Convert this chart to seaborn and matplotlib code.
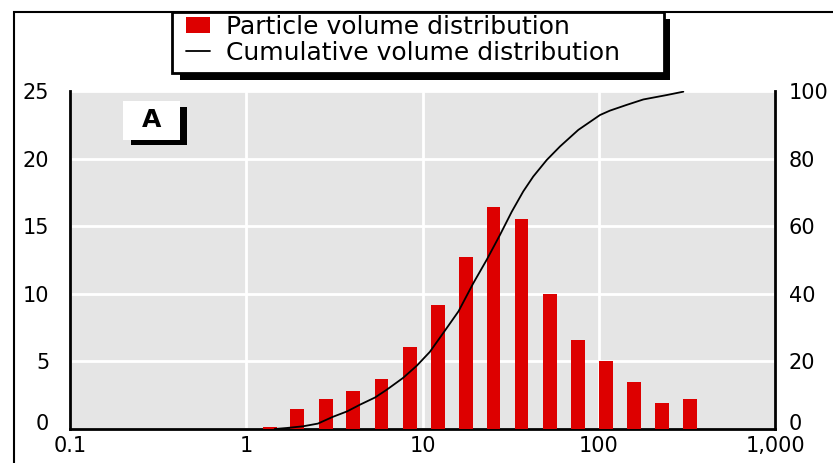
import matplotlib
matplotlib.use("Agg")
import matplotlib.pyplot as plt
from matplotlib.patches import Rectangle, Patch
from matplotlib.lines import Line2D
from matplotlib.transforms import ScaledTranslation
import seaborn as sns

# Particle size classes (µm) and volume fraction (%) per class
sizes = [1.36, 1.95, 2.82, 4.05, 5.85, 8.45, 12.2, 17.6, 25.3, 36.5, 52.7, 76, 110, 158, 228, 330]
volume = [0.15, 1.5, 2.25, 2.8, 3.7, 6.05, 9.2, 12.75, 16.4, 15.5, 10.0, 6.6, 5.0, 3.5, 1.9, 2.2]

# Cumulative volume distribution (%)
cum_size = [1.45, 1.7, 2.1, 2.55, 3.1, 3.73, 4.42, 5.37, 6.26, 7.75, 9.27, 11.0, 13.4, 16.0,
            19.4, 23.1, 27.5, 32.1, 37.3, 42.5, 50.7, 60.3, 76.6, 101.7, 115.8, 144.2, 179.1, 243, 302]
cum_pct = [0, 0.3, 0.8, 1.6, 3.6, 5.2, 7.2, 9.3, 11.6, 15.1, 18.7, 22.8, 29.1, 34.8,
           43.1, 50.0, 57.4, 64.3, 70.3, 74.7, 79.6, 83.6, 88.5, 92.9, 94.2, 95.9, 97.5, 98.8, 99.8]

x_ticks = [0.1, 1, 10, 100, 1000]
x_labels = ["0.1", "1", "10", "100", "1,000"]
left_ticks = [0, 5, 10, 15, 20, 25]
right_ticks = [0, 20, 40, 60, 80, 100]

BAR_RED = "#DD0000"
PANEL = "#E5E5E5"

sns.set_theme(style="darkgrid", rc={
    "axes.facecolor": PANEL,
    "grid.color": "white",
    "grid.linewidth": 2.0,
    "axes.edgecolor": "black",
    "text.color": "black",
    "xtick.color": "black",
    "ytick.color": "black",
})
plt.rcParams["font.family"] = ["DejaVu Sans"]

W, H = 833, 463
fig = plt.figure(figsize=(W / 100, H / 100), dpi=100)


def fig_box(x0, y0, x1, y1):
    """Pixel box (origin top-left) -> figure-fraction rectangle args."""
    return (x0 / W, 1 - y1 / H), (x1 - x0) / W, (y1 - y0) / H


def add_rect(x0, y0, x1, y1, **kw):
    (fx, fy), fw, fh = fig_box(x0, y0, x1, y1)
    fig.patches.append(Rectangle((fx, fy), fw, fh, transform=fig.transFigure, **kw))


ax = fig.add_axes([70 / W, 1 - 429 / H, 705 / W, 338 / H])

sns.barplot(x=sizes, y=volume, native_scale=True, log_scale=(True, False), orient="x",
            color=BAR_RED, saturation=1, width=0.5, errorbar=None, linewidth=0,
            ax=ax, zorder=3)

ax.set_xlim(0.1, 1000)
ax.set_ylim(0, 25)
ax.set_xticks(x_ticks)
ax.set_xticklabels(x_labels)
ax.minorticks_off()
ax.set_yticks(left_ticks)
ax.tick_params(axis="x", length=0, pad=5, labelsize=15)
ax.tick_params(axis="y", length=0, pad=15, labelsize=15)
ax.grid(True, which="major", color="white", linewidth=2)
ax.set_axisbelow(True)
for side in ["top", "right"]:
    ax.spines[side].set_visible(False)
for side in ["left", "bottom"]:
    ax.spines[side].set_color("black")
    ax.spines[side].set_linewidth(2)

ax2 = ax.twinx()
sns.lineplot(x=cum_size, y=cum_pct, ax=ax2, color="black", linewidth=1.3)
ax2.set_ylim(0, 100)
ax2.set_yticks(right_ticks)
ax2.grid(False)
ax2.tick_params(axis="y", length=0, pad=10, labelsize=15)
for side in ["top", "left", "bottom"]:
    ax2.spines[side].set_visible(False)
ax2.spines["right"].set_color("black")
ax2.spines["right"].set_linewidth(2)
ax2.set_xlim(0.1, 1000)

# Lift the two zero labels a little off the x-axis labels
lift = ScaledTranslation(0, 5 / 72, fig.dpi_scale_trans)
zl = ax.yaxis.get_major_ticks()[0].label1
zl.set_transform(zl.get_transform() + lift)
zr = ax2.yaxis.get_major_ticks()[0].label2
zr.set_transform(zr.get_transform() + lift)

# Outer frame, open on the right and bottom edges
add_rect(14, 12, W + 20, H + 20, fill=False, edgecolor="black", linewidth=1.5, zorder=0)

# Legend box with a solid drop shadow
add_rect(180, 19, 670, 80, facecolor="black", edgecolor="none", zorder=4)
add_rect(172, 12, 664, 73, facecolor="white", edgecolor="black", linewidth=2, zorder=5)
handles = [Patch(facecolor=BAR_RED, edgecolor="none"),
           Line2D([], [], color="black", linewidth=1.3)]
labels = ["Particle volume distribution", "Cumulative volume distribution"]
leg = fig.legend(handles, labels, loc="upper left", bbox_to_anchor=(186 / W, 1 - 15 / H),
                 borderaxespad=0, borderpad=0, frameon=False,
                 fontsize=18, handlelength=0.95, handleheight=0.62, handletextpad=0.65,
                 labelspacing=0.06)
leg.set_zorder(6)

# Panel letter "A"
add_rect(131, 107, 187, 145, facecolor="black", edgecolor="none", zorder=6)
add_rect(123, 101, 180, 140, facecolor="white", edgecolor="none", zorder=7)
fig.text((123 + 180) / 2 / W, 1 - 120 / H, "A", ha="center", va="center",
         fontsize=18, fontweight="bold", zorder=8)

fig.savefig("out.png", dpi=100)
